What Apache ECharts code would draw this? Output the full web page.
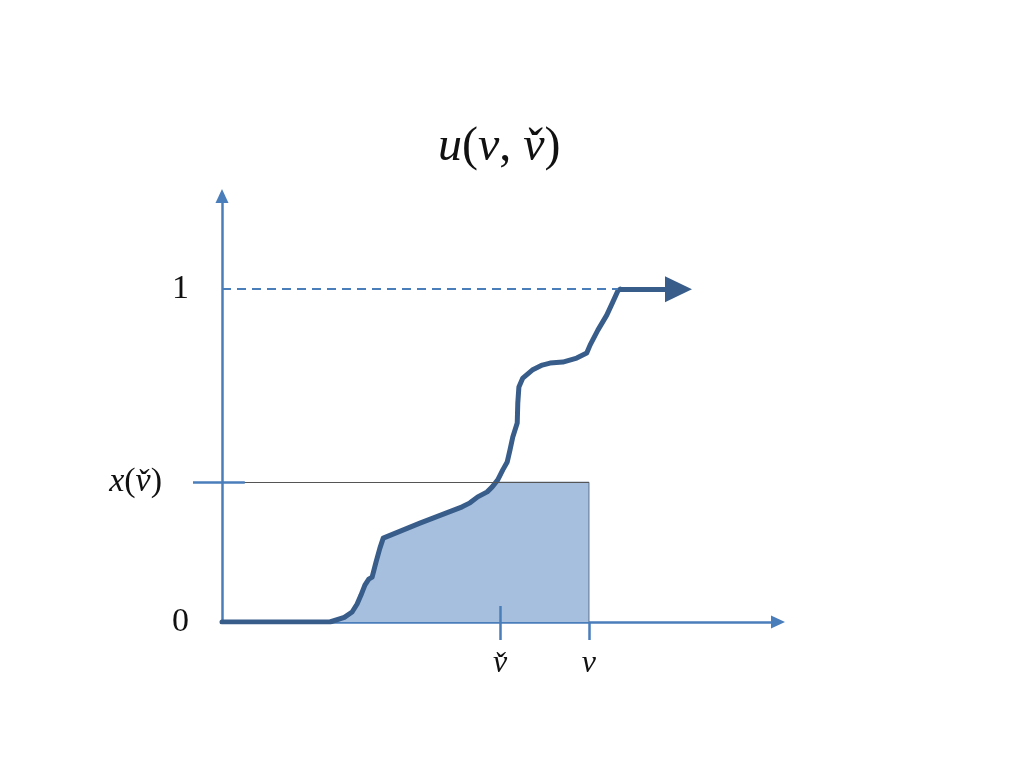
<!DOCTYPE html>
<html lang="en">
<head>
<meta charset="UTF-8">
<title>u(v, v̌)</title>
<script src="https://cdn.jsdelivr.net/npm/echarts@6.0.0/dist/echarts.min.js"></script>
<style>
    *{
        margin: 0;
        padding: 0;
    }
    html, body{
        width: 100%;
        height: 100%;
        overflow: hidden;
        background: #fff;
    }
    #chart{
        width: 1024px;
        height: 768px;
    }
</style>
</head>
<body>
<div id="chart"></div>
<script>
    // 横轴上的 v̌ 和 v，纵轴上的 x(v̌)
    const vCheck = 50;
    const vValue = 66;
    const xAtCheck = 0.42;

    // 曲线 u(·, v̌)
    const curveX = [0, 19.4, 22.0, 23.4, 24.3, 25.0, 25.7, 26.4, 27.0, 27.7, 28.4, 29.0, 35.6, 43.2, 44.6, 46.0, 47.7, 48.6,
        49.6, 50.5, 51.3, 51.8, 52.3, 53.1, 53.2, 53.4, 54.1, 55.8, 57.6, 59.0, 61.3, 63.8, 65.6, 66.2, 67.6, 69.2, 70.3, 71.2, 71.6];
    const curveY = [0, 0, 0.014, 0.030, 0.054, 0.081, 0.111, 0.129, 0.135, 0.180, 0.222, 0.252, 0.297, 0.346, 0.358, 0.376, 0.391, 0.406,
        0.427, 0.457, 0.481, 0.517, 0.556, 0.598, 0.658, 0.706, 0.733, 0.757, 0.772, 0.778, 0.781, 0.793, 0.808, 0.832, 0.877, 0.922, 0.962, 0.995, 1.0];
    const arrowEndX = 82.1;

    const blue = '#4a7ebb';
    const dark = '#385d8a';
    const serif = 'Liberation Serif';

    let curve = curveX.map((x, i) => [x, curveY[i]]);

    // 阴影区域: min(u, x(v̌))，到 v 为止
    let fill = [];
    for (let i = 0; i < curve.length; i++) {
        if (curve[i][1] <= xAtCheck) {
            fill.push(curve[i]);
        } else {
            let a = curve[i - 1], b = curve[i];
            let t = (xAtCheck - a[1]) / (b[1] - a[1]);
            fill.push([a[0] + t * (b[0] - a[0]), xAtCheck]);
            break;
        }
    }
    fill.push([vValue, xAtCheck], [vValue, 0]);

    let rich = {
        i: {fontFamily: serif, fontStyle: 'italic', fontSize: 34, color: '#111'},
        n: {fontFamily: serif, fontSize: 34, color: '#111'},
        p: {fontFamily: serif, fontSize: 34, color: '#111', padding: [0, 27, 0, 0]}
    };

    let chart = echarts.init(document.getElementById('chart'));

    chart.setOption({
        animation: false,
        title: {
            left: 433,
            top: 118,
            text: '{i|u}{n|(}{i|v}{n|, }{i|v̌}{n|)}',
            textStyle: {
                fontWeight: 'normal',
                rich: {
                    i: {fontFamily: serif, fontStyle: 'italic', fontWeight: 'normal', fontSize: 48, color: '#111'},
                    n: {fontFamily: serif, fontWeight: 'normal', fontSize: 48, color: '#111'}
                }
            }
        },
        grid: {left: 222, right: 246, top: 196, bottom: 146},
        xAxis: {
            type: 'value',
            min: 0,
            max: 100,
            splitLine: {show: false},
            axisLine: {
                lineStyle: {color: blue, width: 2.5},
                symbol: ['none', 'triangle'],
                symbolSize: [13, 14]
            },
            axisTick: {
                customValues: [vCheck, vValue],
                length: 18,
                lineStyle: {color: blue, width: 2.5}
            },
            axisLabel: {
                customValues: [vCheck, vValue],
                margin: 26,
                formatter: val => val === vCheck ? '{i|v̌}' : '{i|v}',
                rich: {i: {fontFamily: serif, fontStyle: 'italic', fontSize: 32, color: '#111'}}
            }
        },
        yAxis: {
            type: 'value',
            min: 0,
            max: 1.28,
            splitLine: {show: false},
            axisLine: {
                lineStyle: {color: blue, width: 2.5},
                symbol: ['none', 'triangle'],
                symbolSize: [13, 14]
            },
            axisTick: {
                customValues: [xAtCheck],
                length: 29,
                lineStyle: {color: blue, width: 2.5}
            },
            axisLabel: {
                customValues: [0, xAtCheck, 1],
                margin: 33,
                formatter: val => {
                    if (val === 0) return '{n|0}';
                    if (val === 1) return '{n|1}';
                    return '{i|x}{n|(}{i|v̌}{p|)}';
                },
                rich
            }
        },
        series: [
            {
                // 阴影
                type: 'line',
                data: fill,
                symbol: 'none',
                z: 1,
                lineStyle: {color: '#5d7290', width: 1},
                areaStyle: {color: '#a7bfde', opacity: 1}
            },
            {
                // 参考线和刻度
                type: 'line',
                data: [],
                z: 2,
                markLine: {
                    silent: true,
                    symbol: 'none',
                    label: {show: false},
                    data: [
                        [{coord: [0, xAtCheck], lineStyle: {color: '#555', width: 1.2, type: 'solid'}},
                         {coord: [vValue, xAtCheck]}],
                        [{coord: [0, xAtCheck], lineStyle: {color: blue, width: 2.5, type: 'solid'}},
                         {coord: [4.1, xAtCheck]}],
                        [{coord: [vCheck, 0], lineStyle: {color: blue, width: 2.5, type: 'solid'}},
                         {coord: [vCheck, 0.048]}],
                        [{coord: [0, 1], lineStyle: {color: blue, width: 1.8, type: [9, 6]}},
                         {coord: [71.2, 1]}]
                    ]
                }
            },
            {
                // 曲线
                type: 'line',
                data: curve,
                symbol: 'none',
                z: 3,
                lineStyle: {color: dark, width: 5, cap: 'round', join: 'round'},
                markLine: {
                    silent: true,
                    symbol: ['none', 'triangle'],
                    symbolSize: [26, 27],
                    label: {show: false},
                    lineStyle: {color: dark, width: 5, type: 'solid'},
                    data: [
                        [{coord: [71.6, 1]}, {coord: [arrowEndX, 1]}]
                    ]
                }
            }
        ]
    });
</script>
</body>
</html>
